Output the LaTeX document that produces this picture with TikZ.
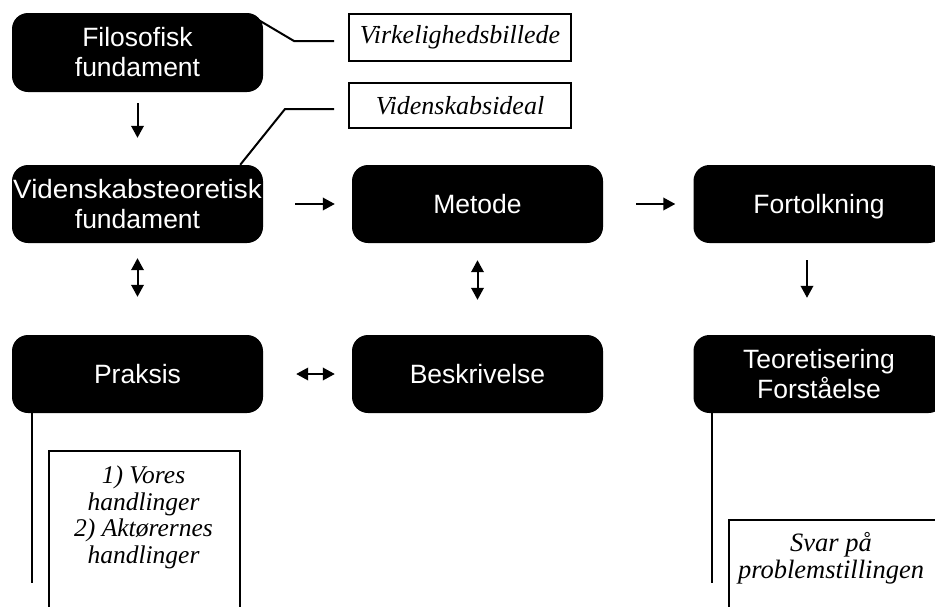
\documentclass[tikz,border=0pt]{standalone}
\usepackage{fontspec}
\setmainfont{Liberation Sans}
\newfontfamily\timesit{Liberation Serif}
\usetikzlibrary{arrows.meta,calc}
\begin{document}
\begin{tikzpicture}[x=1pt,y=-1pt,
  blk/.style={fill=black,text=white,rounded corners=16pt,minimum width=251pt,minimum height=78pt,
    align=center,inner sep=0pt,font=\fontsize{26.5}{30}\selectfont},
  lbl/.style={draw,line width=2pt,minimum width=222pt,minimum height=46pt,inner sep=0pt,
    font=\timesit\itshape\fontsize{26}{28}\selectfont},
  txtbox/.style={draw,line width=2pt,inner sep=0pt,anchor=north west},
  itx/.style={align=center,inner sep=0pt,font=\timesit\itshape\fontsize{25.5}{26.5}\selectfont},
  tip/.tip={Triangle[length=12pt,width=12.5pt]},
  arr/.style={line width=2pt,-tip},
  darr/.style={line width=2pt,tip-tip},
  callout/.style={line width=2pt},
  stem/.style={line width=2pt}
]
\useasboundingbox (0,0) rectangle (935,606);
\clip (0,0) rectangle (935,606);

% main boxes
\node[blk,minimum height=79pt] (fil) at (137.5,52.5) {Filosofisk\\fundament};
\node[blk] (vid) at (137.5,204) {\scalebox{1.05}[1]{Videnskabsteoretisk}\\fundament};
\node[blk] (met) at (477.5,204) {Metode};
\node[blk] (fort) at (819,204) {\raisebox{0pt}[\height][0pt]{Fortolkning}};
\node[blk] (prak) at (137.5,374) {Praksis};
\node[blk] (besk) at (477.5,374) {Beskrivelse};
\node[blk] (teo) at (819,374) {Teoretisering\\Forståelse};

% label boxes
\node[lbl,minimum height=47pt] (virk) at (460,37.5) {Virkelighedsbillede};
\node[lbl,minimum height=45pt] (ideal) at (460,105.5) {Videnskabsideal};

% callout lines
\draw[callout] ([shift={(-5pt,-7pt)}]fil.north east) -- ($(virk.west)+(-54,3.5)$) -- ($(virk.west)+(-14,3.5)$);
\draw[callout] ([xshift=-23pt]vid.north east) -- ($(ideal.west)+(-63,3.5)$) -- ($(ideal.west)+(-14,3.5)$);

% arrows
\draw[arr, shorten <=11pt, shorten >=27pt] (fil) -- (vid);
\draw[arr, shorten <=32pt, shorten >=17pt] (vid) -- (met);
\draw[arr, shorten <=33pt, shorten >=18pt] (met) -- (fort);
\draw[darr, shorten <=15pt, shorten >=38pt] (vid) -- (prak);
\draw[darr, shorten <=17pt, shorten >=35pt] (met) -- (besk);
\draw[arr, shorten <=17pt, shorten >=37pt] ([xshift=-12pt]fort.south) -- ([xshift=-12pt]teo.north);
\draw[darr, shorten <=33pt, shorten >=17pt] (prak) -- (besk);

% stems
\coordinate (pend) at (32,583);
\coordinate (tend) at (712,583);
\draw[stem] (prak.south -| pend) -- (pend);
\draw[stem] (teo.south -| tend) -- (tend);

% lower text boxes
\node[txtbox,minimum width=191pt,minimum height=175pt] (hbox) at (48,450) {};
\node[itx] (htxt) at (143.5,517.5) {1) Vores\\handlinger\\2) Aktørernes\\handlinger};
\node[txtbox,minimum width=230pt,minimum height=110pt] (sbox) at (728,519) {};
\node[itx,font=\timesit\itshape\fontsize{26.5}{27}\selectfont] (stxt) at (831,558) {Svar på\\problemstillingen};
\end{tikzpicture}
\end{document}
